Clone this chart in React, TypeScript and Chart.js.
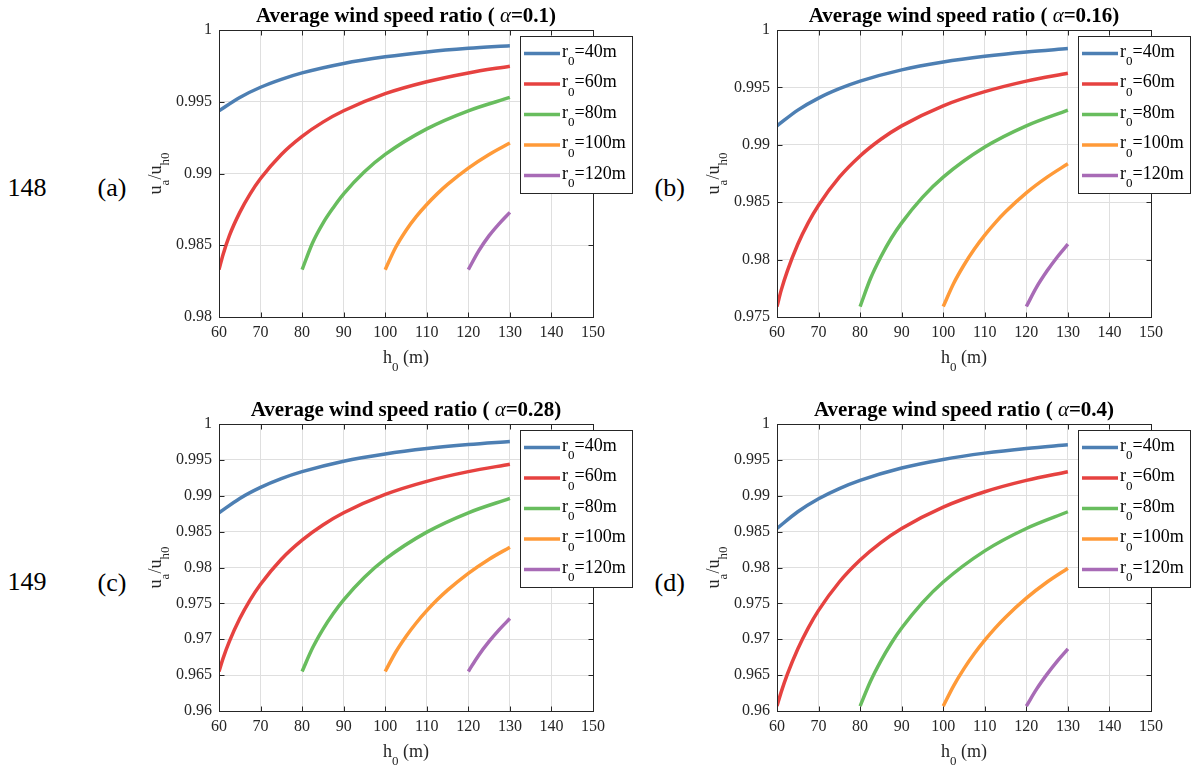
import React, { useEffect, useRef } from "react";
import { Chart, registerables } from "chart.js";

Chart.register(...registerables);

const SERIF = "'Liberation Serif', 'Times New Roman', Times, serif";
const INK = "#262626";
const GRID = "#dfdfdf";

// ---- legend / series ----
const r0Labels = ["40", "60", "80", "100", "120"];
const seriesColors = ["#4d7fb3", "#e64240", "#68bd5e", "#ff9a38", "#a86bb6"];

// h0 positions (m) sampled along each r0 curve
const hR40 = [60, 65, 70, 75, 80, 90, 100, 110, 120, 130];
const hR60 = [60, 61, 62.5, 65, 67.5, 70, 75, 80, 85, 90, 100, 110, 120, 130];
const hR80 = [80, 82.5, 85, 87.5, 90, 95, 100, 110, 120, 130];
const hR100 = [100, 102.5, 105, 107.5, 110, 112.5, 115, 120, 125, 130];
const hR120 = [120, 122.5, 125, 127.5, 130];

// (a) alpha = 0.1
const a_r40 = [0.99437, 0.9953, 0.99601, 0.99656, 0.99701, 0.99767, 0.99813, 0.99847, 0.99872, 0.99891];
const a_r60 = [0.9833, 0.98437, 0.98567, 0.98729, 0.98858, 0.98965, 0.99133, 0.99259, 0.99358, 0.99437, 0.99556, 0.99639, 0.99701, 0.99748];
const a_r80 = [0.9833, 0.98516, 0.98653, 0.98762, 0.98858, 0.99012, 0.99133, 0.99311, 0.99437, 0.9953];
const a_r100 = [0.9833, 0.98484, 0.98603, 0.98701, 0.98784, 0.98858, 0.98924, 0.99038, 0.99133, 0.99213];
const a_r120 = [0.9833, 0.98461, 0.98567, 0.98653, 0.98729];

// (b) alpha = 0.16
const b_r40 = [0.99165, 0.99302, 0.99407, 0.99489, 0.99555, 0.99653, 0.99721, 0.99771, 0.99809, 0.99838];
const b_r60 = [0.97591, 0.97732, 0.97902, 0.98134, 0.9832, 0.98474, 0.98718, 0.98903, 0.99048, 0.99165, 0.9934, 0.99463, 0.99555, 0.99624];
const b_r80 = [0.97591, 0.97835, 0.98025, 0.98186, 0.9832, 0.98542, 0.98718, 0.9898, 0.99165, 0.99302];
const b_r100 = [0.97591, 0.97792, 0.97953, 0.98092, 0.98213, 0.9832, 0.98416, 0.98581, 0.98718, 0.98835];
const b_r120 = [0.97591, 0.97762, 0.97902, 0.98025, 0.98134];

// (c) alpha = 0.28
const c_r40 = [0.98763, 0.98963, 0.99117, 0.99239, 0.99336, 0.99482, 0.99583, 0.99658, 0.99714, 0.99757];
const c_r60 = [0.96551, 0.96737, 0.9697, 0.97288, 0.97549, 0.97767, 0.98116, 0.98382, 0.98593, 0.98763, 0.99019, 0.99201, 0.99336, 0.99439];
const c_r80 = [0.96551, 0.96877, 0.97138, 0.97359, 0.97549, 0.97864, 0.98116, 0.98493, 0.98763, 0.98963];
const c_r100 = [0.96551, 0.96819, 0.97039, 0.9723, 0.97398, 0.97549, 0.97684, 0.97919, 0.98116, 0.98283];
const c_r120 = [0.96551, 0.96778, 0.9697, 0.97138, 0.97288];

// (d) alpha = 0.4
const d_r40 = [0.98544, 0.98777, 0.98958, 0.991, 0.99214, 0.99386, 0.99506, 0.99594, 0.9966, 0.99711];
const d_r60 = [0.96068, 0.96263, 0.96514, 0.96865, 0.97156, 0.97402, 0.97798, 0.98104, 0.98347, 0.98544, 0.98842, 0.99056, 0.99214, 0.99335];
const d_r80 = [0.96068, 0.96414, 0.96699, 0.96945, 0.97156, 0.97511, 0.97798, 0.98232, 0.98544, 0.98777];
const d_r100 = [0.96068, 0.96351, 0.96591, 0.96801, 0.96988, 0.97156, 0.97308, 0.97573, 0.97798, 0.9799];
const d_r120 = [0.96068, 0.96308, 0.96514, 0.96699, 0.96865];

// ticks
const xTicks = [60, 70, 80, 90, 100, 110, 120, 130, 140, 150];
const yTicksA = [0.98, 0.985, 0.99, 0.995, 1];
const yTicksB = [0.975, 0.98, 0.985, 0.99, 0.995, 1];
const yTicksCD = [0.96, 0.965, 0.97, 0.975, 0.98, 0.985, 0.99, 0.995, 1];
const alphas = ["0.1", "0.16", "0.28", "0.4"];
const panelLetters = ["(a)", "(b)", "(c)", "(d)"];
const lineNumbers = ["148", "149"];

const hGrid = [hR40, hR60, hR80, hR100, hR120];

// ---- layout ----
const Y_AXIS_W = 80;
const X_AXIS_H = 60;
const TITLE_H = 30;
const RIGHT_PAD = 45;
const PLOT_W = 374;
const PLOT_H = 287;
const CANVAS_W = Y_AXIS_W + PLOT_W + RIGHT_PAD;
const CANVAS_H = TITLE_H + PLOT_H + X_AXIS_H;

type PanelCfg = {
  key: string;
  alpha: string;
  values: number[][];
  yTicks: number[];
  plotLeft: number;
  plotTop: number;
};

const PANELS: PanelCfg[] = [
  { key: "a", alpha: alphas[0], values: [a_r40, a_r60, a_r80, a_r100, a_r120], yTicks: yTicksA, plotLeft: 219, plotTop: 30 },
  { key: "b", alpha: alphas[1], values: [b_r40, b_r60, b_r80, b_r100, b_r120], yTicks: yTicksB, plotLeft: 777, plotTop: 30 },
  { key: "c", alpha: alphas[2], values: [c_r40, c_r60, c_r80, c_r100, c_r120], yTicks: yTicksCD, plotLeft: 219, plotTop: 424 },
  { key: "d", alpha: alphas[3], values: [d_r40, d_r60, d_r80, d_r100, d_r120], yTicks: yTicksCD, plotLeft: 777, plotTop: 424 },
];

type Run = { t: string; f: string; dy?: number };

function richWidth(ctx: CanvasRenderingContext2D, runs: Run[]) {
  let w = 0;
  for (const r of runs) {
    ctx.font = r.f;
    w += ctx.measureText(r.t).width;
  }
  return w;
}

function drawRich(ctx: CanvasRenderingContext2D, runs: Run[], x: number, y: number, align: "left" | "center") {
  let cx = align === "center" ? x - richWidth(ctx, runs) / 2 : x;
  ctx.textAlign = "left";
  ctx.textBaseline = "alphabetic";
  for (const r of runs) {
    ctx.font = r.f;
    ctx.fillText(r.t, cx, y + (r.dy || 0));
    cx += ctx.measureText(r.t).width;
  }
}

const MAIN18 = `18px ${SERIF}`;
const SUB13 = `13px ${SERIF}`;

function makeDecor(cfg: PanelCfg) {
  return {
    id: "matlabDecor",
    afterDatasetsDraw(chart: any) {
      const ctx: CanvasRenderingContext2D = chart.ctx;
      const { left, right, top, bottom } = chart.chartArea;
      const xs = chart.scales.x;
      const ys = chart.scales.y;
      ctx.save();

      // axes box
      ctx.strokeStyle = INK;
      ctx.lineWidth = 1;
      ctx.strokeRect(left + 0.5, top + 0.5, right - left, bottom - top);

      // inward tick marks on all four sides
      ctx.beginPath();
      for (const v of xTicks) {
        const px = Math.round(xs.getPixelForValue(v)) + 0.5;
        ctx.moveTo(px, bottom + 0.5);
        ctx.lineTo(px, bottom - 4.5);
        ctx.moveTo(px, top + 0.5);
        ctx.lineTo(px, top + 5.5);
      }
      for (const v of cfg.yTicks) {
        const py = Math.round(ys.getPixelForValue(v)) + 0.5;
        ctx.moveTo(left + 0.5, py);
        ctx.lineTo(left + 5.5, py);
        ctx.moveTo(right + 0.5, py);
        ctx.lineTo(right - 4.5, py);
      }
      ctx.stroke();

      // legend
      const bx = Math.round(right - 73.5);
      const by = Math.round(top + 6);
      const bw = 112;
      const bh = 157;
      ctx.fillStyle = "#ffffff";
      ctx.fillRect(bx, by, bw, bh);
      ctx.strokeStyle = INK;
      ctx.lineWidth = 1;
      ctx.strokeRect(bx + 0.5, by + 0.5, bw, bh);
      r0Labels.forEach((lab, i) => {
        const ly = by + 17.5 + i * 30.5;
        ctx.strokeStyle = seriesColors[i];
        ctx.lineWidth = 3.5;
        ctx.beginPath();
        ctx.moveTo(bx + 4, ly);
        ctx.lineTo(bx + 40, ly);
        ctx.stroke();
        ctx.fillStyle = "#000000";
        drawRich(
          ctx,
          [
            { t: "r", f: MAIN18 },
            { t: "0", f: SUB13, dy: 8.5 },
            { t: "=" + lab + "m", f: MAIN18 },
          ],
          bx + 42,
          ly + 3,
          "left"
        );
      });

      // title
      const cx = (left + right) / 2;
      ctx.fillStyle = "#000000";
      drawRich(
        ctx,
        [
          { t: "Average wind speed ratio ( ", f: `bold 21px ${SERIF}` },
          { t: "α", f: `italic 21px ${SERIF}` },
          { t: "=" + cfg.alpha + ")", f: `bold 21px ${SERIF}` },
        ],
        cx,
        top - 8.5,
        "center"
      );

      // x label
      ctx.fillStyle = INK;
      drawRich(
        ctx,
        [
          { t: "h", f: MAIN18 },
          { t: "0", f: SUB13, dy: 8 },
          { t: " (m)", f: MAIN18 },
        ],
        cx,
        bottom + 46,
        "center"
      );

      // y label (rotated)
      ctx.save();
      ctx.translate(left - 58, (top + bottom) / 2);
      ctx.rotate(-Math.PI / 2);
      drawRich(
        ctx,
        [
          { t: "u", f: MAIN18 },
          { t: "a", f: SUB13, dy: 8 },
          { t: "/u", f: MAIN18 },
          { t: "h0", f: SUB13, dy: 8 },
        ],
        0,
        0,
        "center"
      );
      ctx.restore();

      ctx.restore();
    },
  };
}

function Panel({ cfg }: { cfg: PanelCfg }) {
  const ref = useRef<HTMLCanvasElement>(null);
  useEffect(() => {
    const canvas = ref.current;
    if (!canvas) return;
    const datasets = cfg.values.map((vals, i) => ({
      label: "r0=" + r0Labels[i] + "m",
      data: vals.map((v, j) => ({ x: hGrid[i][j], y: v })),
      borderColor: seriesColors[i],
      backgroundColor: seriesColors[i],
      borderWidth: 3.5,
      pointRadius: 0,
      fill: false,
      cubicInterpolationMode: "monotone" as const,
    }));
    const yMin = cfg.yTicks[0];
    const yMax = cfg.yTicks[cfg.yTicks.length - 1];
    const chart = new Chart(canvas, {
      type: "line",
      data: { datasets },
      options: {
        animation: false,
        responsive: false,
        maintainAspectRatio: false,
        devicePixelRatio: 1,
        layout: { padding: { left: 0, top: TITLE_H, right: RIGHT_PAD, bottom: 0 } },
        plugins: {
          legend: { display: false },
          title: { display: false },
          tooltip: { enabled: false },
        },
        events: [],
        scales: {
          x: {
            type: "linear",
            min: 60,
            max: 150,
            afterBuildTicks: (s: any) => {
              s.ticks = xTicks.map((v) => ({ value: v }));
            },
            afterFit: (s: any) => {
              s.height = X_AXIS_H;
            },
            grid: { color: GRID, lineWidth: 1, drawTicks: false },
            border: { display: false },
            ticks: {
              padding: 6,
              autoSkip: false,
              maxRotation: 0,
              minRotation: 0,
              color: INK,
              font: { family: SERIF, size: 16 },
              callback: (v: any) => String(v),
            },
          },
          y: {
            type: "linear",
            min: yMin,
            max: yMax,
            afterBuildTicks: (s: any) => {
              s.ticks = cfg.yTicks.map((v) => ({ value: v }));
            },
            afterFit: (s: any) => {
              s.width = Y_AXIS_W;
            },
            grid: { color: GRID, lineWidth: 1, drawTicks: false },
            border: { display: false },
            ticks: {
              padding: 7,
              autoSkip: false,
              color: INK,
              font: { family: SERIF, size: 16 },
              callback: (v: any) => String(Number(Number(v).toFixed(3))),
            },
          },
        },
      },
      plugins: [makeDecor(cfg)],
    } as any);
    return () => chart.destroy();
  }, [cfg]);
  return (
    <canvas
      ref={ref}
      width={CANVAS_W}
      height={CANVAS_H}
      style={{
        position: "absolute",
        left: cfg.plotLeft - Y_AXIS_W,
        top: cfg.plotTop - TITLE_H,
        width: CANVAS_W,
        height: CANVAS_H,
      }}
    />
  );
}

const sideLabels = [
  { text: lineNumbers[0], x: 7.5, baseline: 197 },
  { text: panelLetters[0], x: 97.5, baseline: 197 },
  { text: panelLetters[1], x: 654.5, baseline: 197 },
  { text: lineNumbers[1], x: 7.5, baseline: 591 },
  { text: panelLetters[2], x: 97.5, baseline: 592 },
  { text: panelLetters[3], x: 654.5, baseline: 592 },
];

export default function App() {
  return (
    <div
      style={{
        position: "fixed",
        left: 0,
        top: 0,
        width: 1192,
        height: 769,
        background: "#ffffff",
        overflow: "hidden",
      }}
    >
      {PANELS.map((p) => (
        <Panel key={p.key} cfg={p} />
      ))}
      {sideLabels.map((s) => (
        <div
          key={s.text}
          style={{
            position: "absolute",
            left: s.x,
            top: s.baseline - 21.8,
            fontFamily: SERIF,
            fontSize: 26,
            lineHeight: "26px",
            color: "#000",
            whiteSpace: "nowrap",
          }}
        >
          {s.text}
        </div>
      ))}
    </div>
  );
}
